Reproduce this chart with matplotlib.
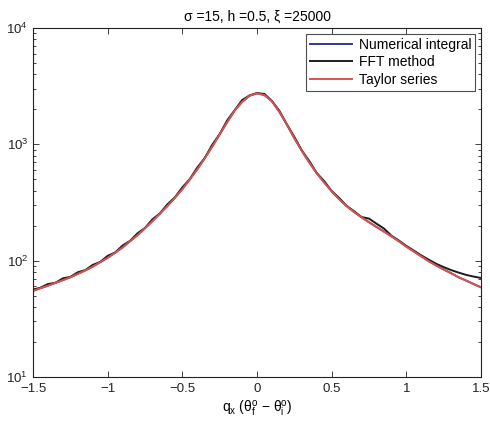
import matplotlib
matplotlib.use("Agg")
import matplotlib.pyplot as plt
from matplotlib.ticker import LogLocator, FixedLocator, NullFormatter

plt.rcParams['font.family'] = ['Liberation Sans', 'DejaVu Sans']
plt.rcParams['mathtext.fontset'] = 'custom'
plt.rcParams['mathtext.rm'] = 'Liberation Sans'
plt.rcParams['mathtext.it'] = 'Liberation Sans:italic'
plt.rcParams['mathtext.bf'] = 'Liberation Sans:bold'

# scattering vector q_x, sampled every 0.05
qx = [-1.50, -1.45, -1.40, -1.35, -1.30, -1.25, -1.20, -1.15, -1.10, -1.05,
      -1.00, -0.95, -0.90, -0.85, -0.80, -0.75, -0.70, -0.65, -0.60, -0.55,
      -0.50, -0.45, -0.40, -0.35, -0.30, -0.25, -0.20, -0.15, -0.10, -0.05,
      0.00, 0.05, 0.10, 0.15, 0.20, 0.25, 0.30, 0.35, 0.40, 0.45,
      0.50, 0.55, 0.60, 0.65, 0.70, 0.75, 0.80, 0.85, 0.90, 0.95,
      1.00, 1.05, 1.10, 1.15, 1.20, 1.25, 1.30, 1.35, 1.40, 1.45, 1.50]

taylor = [55, 58, 61, 64.5, 68, 72, 77, 82.5, 89, 97,
          106, 117, 130, 147, 166, 190, 219, 254, 295, 348,
          412, 500, 610, 760, 955, 1220, 1550, 1950, 2317, 2620,
          2750, 2650, 2350, 1900, 1480, 1130, 880, 700, 565, 470,
          395, 338, 295, 262, 236, 214, 195, 178, 162, 147,
          132, 120, 109, 99, 91, 84, 78, 72, 67.5, 63, 59]

numerical = [55, 58, 61, 64.5, 68, 72, 77, 82.5, 89, 97,
             106, 117, 130, 147, 166, 190, 219, 254, 295, 348,
             412, 500, 610, 760, 955, 1220, 1550, 1950, 2317, 2620,
             2750, 2650, 2350, 1900, 1480, 1130, 880, 700, 565, 470,
             395, 338, 295, 262, 236, 214, 195, 178, 162, 147,
             132, 120, 109, 99, 91, 84, 78, 72, 67.5, 63, 59]

fft = [56.5, 58.5, 63, 64.5, 70.5, 72.5, 79.5, 83, 92, 97.5,
       110, 117.5, 135, 148, 172, 191, 227, 255, 305, 350,
       427, 502, 632, 763, 990, 1225, 1605, 1960, 2400, 2630,
       2760, 2710, 2360, 1940, 1485, 1160, 885, 720, 567, 483,
       397, 346, 296, 266, 237, 230, 208, 189, 164, 149,
       134, 122, 111, 102, 94, 88, 83, 79, 75.5, 73, 71]

xticks = [-1.5, -1, -0.5, 0, 0.5, 1, 1.5]
xticklabels = ['\u22121.5', '\u22121', '\u22120.5', '0', '0.5', '1', '1.5']

fig = plt.figure(figsize=(4.9, 4.26), dpi=100)
ax = fig.add_axes([33 / 490, 1 - 377 / 426, 448 / 490, 349 / 426])

ax.plot(qx, numerical, color='#2b3a8c', lw=1.4, label='Numerical integral')
ax.plot(qx, fft, color='#1c1c1c', lw=1.4, label='FFT method')
ax.plot(qx, taylor, color='#d9534f', lw=1.4, label='Taylor series')

ax.set_yscale('log')
ax.set_xlim(-1.5, 1.5)
ax.set_ylim(10, 1e4)
ax.xaxis.set_major_locator(FixedLocator(xticks))
ax.set_xticklabels(xticklabels)
ax.yaxis.set_major_locator(LogLocator(base=10, numticks=10))
ax.yaxis.set_minor_locator(LogLocator(base=10, subs=range(2, 10), numticks=20))
ax.yaxis.set_minor_formatter(NullFormatter())

ax.tick_params(which='both', direction='in', top=True, right=True,
               labelsize=9.5, colors='#222222', width=0.6)
ax.tick_params(which='major', length=4)
ax.tick_params(which='minor', length=2)
ax.tick_params(axis='x', pad=4)
for s in ax.spines.values():
    s.set_linewidth(0.8)
    s.set_color('#222222')

ax.set_title('\u03c3 =15, h =0.5, \u03be =25000', fontsize=10, pad=5)
ax.set_xlabel('q$_{\\mathrm{x}}$ (\u03b8$_{\\mathrm{f}}^{\\mathrm{o}}$ \u2212 '
              '\u03b8$_{\\mathrm{i}}^{\\mathrm{o}}$)',
              fontsize=10, labelpad=3)

leg = ax.legend(loc='upper right', fontsize=10, frameon=True, fancybox=False,
                edgecolor='#222222', borderaxespad=0.4, handlelength=3.0,
                handletextpad=0.5, labelspacing=0.25, borderpad=0.3)
leg.get_frame().set_linewidth(0.8)

fig.savefig('out.png', dpi=100)
